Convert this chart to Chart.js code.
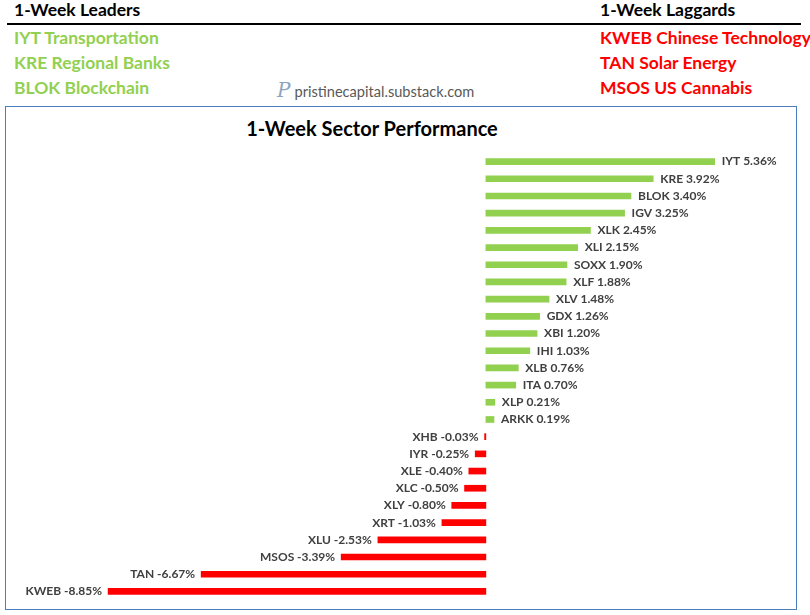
<!DOCTYPE html>
<html>
<head>
<meta charset="utf-8">
<script src="https://cdn.jsdelivr.net/npm/chart.js@4.4.0/dist/chart.umd.min.js"></script>
<style>
  html, body { margin: 0; padding: 0; background: #fff; width: 810px; height: 615px; overflow: hidden; }
  body { position: relative; font-family: Lato, "Open Sans", sans-serif; }
  .hdr { position: absolute; font-weight: bold; font-size: 17.5px; color: #000; line-height: 20px; white-space: nowrap; }
  .rule { position: absolute; left: 7px; top: 23px; width: 794px; height: 2px; background: #000; }
  .item { position: absolute; font-weight: bold; font-size: 17.5px; line-height: 20px; white-space: nowrap; }
  .g { color: #92d050; }
  .r { color: #ff0000; }
  .wm { position: absolute; left: 277px; top: 80px; font-size: 14.6px; color: #595959; line-height: 20px; white-space: nowrap; }
  .wm .logo { font-family: "DejaVu Serif", serif; font-style: italic; font-size: 20px; color: #8ea4c0; margin-right: 4px; }
  #box { position: absolute; left: 5px; top: 106px; width: 790px; height: 502px; border: 1px solid #4a7ebb; }
  #title { position: absolute; left: 0; width: 732px; top: 9px; text-align: center; font-weight: bold; font-size: 20px; color: #000; white-space: nowrap; }
  canvas { position: absolute; left: 0; top: 0; }
</style>
</head>
<body>
<div class="hdr" style="left:14px; top:0px;">1-Week Leaders</div>
<div class="hdr" style="left:600px; top:0px;">1-Week Laggards</div>
<div class="rule"></div>
<div class="item g" style="left:14px; top:28px;">IYT Transportation</div>
<div class="item g" style="left:14px; top:53px;">KRE Regional Banks</div>
<div class="item g" style="left:14px; top:78px;">BLOK Blockchain</div>
<div class="item r" style="left:600px; top:28px;">KWEB Chinese Technology</div>
<div class="item r" style="left:600px; top:53px;">TAN Solar Energy</div>
<div class="item r" style="left:600px; top:78px;">MSOS US Cannabis</div>
<div class="wm"><span class="logo">P</span>pristinecapital.substack.com</div>
<div id="box">
  <div id="title">1-Week Sector Performance</div>
  <canvas id="c" width="790" height="502"></canvas>
</div>
<script>
const categories = ["IYT","KRE","BLOK","IGV","XLK","XLI","SOXX","XLF","XLV","GDX","XBI","IHI","XLB","ITA","XLP","ARKK","XHB","IYR","XLE","XLC","XLY","XRT","XLU","MSOS","TAN","KWEB"];
const values = [5.36,3.92,3.40,3.25,2.45,2.15,1.90,1.88,1.48,1.26,1.20,1.03,0.76,0.70,0.21,0.19,-0.03,-0.25,-0.40,-0.50,-0.80,-1.03,-2.53,-3.39,-6.67,-8.85];
const positiveColor = "#92d050";
const negativeColor = "#ff0000";

const labelPlugin = {
  id: 'barLabels',
  afterDatasetsDraw(chart) {
    const ctx = chart.ctx;
    const meta = chart.getDatasetMeta(0);
    ctx.save();
    ctx.font = "bold 12px Lato, 'Open Sans', sans-serif";
    ctx.fillStyle = "#404040";
    ctx.textBaseline = "middle";
    meta.data.forEach((bar, i) => {
      const v = values[i];
      const txt = categories[i] + " " + v.toFixed(2) + "%";
      if (v >= 0) {
        ctx.textAlign = "left";
        ctx.fillText(txt, bar.x + 7, bar.y);
      } else {
        ctx.textAlign = "right";
        ctx.fillText(txt, bar.x - 6, bar.y);
      }
    });
    ctx.restore();
  }
};

new Chart(document.getElementById('c'), {
  type: 'bar',
  data: {
    labels: categories,
    datasets: [{
      data: values,
      backgroundColor: values.map(v => v >= 0 ? positiveColor : negativeColor),
      barThickness: 6,
      borderWidth: 0
    }]
  },
  options: {
    indexAxis: 'y',
    responsive: false,
    animation: false,
    layout: { padding: { left: 53, right: 54, top: 46, bottom: 9 } },
    plugins: { legend: { display: false }, tooltip: { enabled: false }, title: { display: false } },
    scales: {
      x: { min: -10, max: 6, display: false, grid: { display: false } },
      y: { display: false, grid: { display: false } }
    }
  },
  plugins: [labelPlugin]
});
</script>
</body>
</html>
